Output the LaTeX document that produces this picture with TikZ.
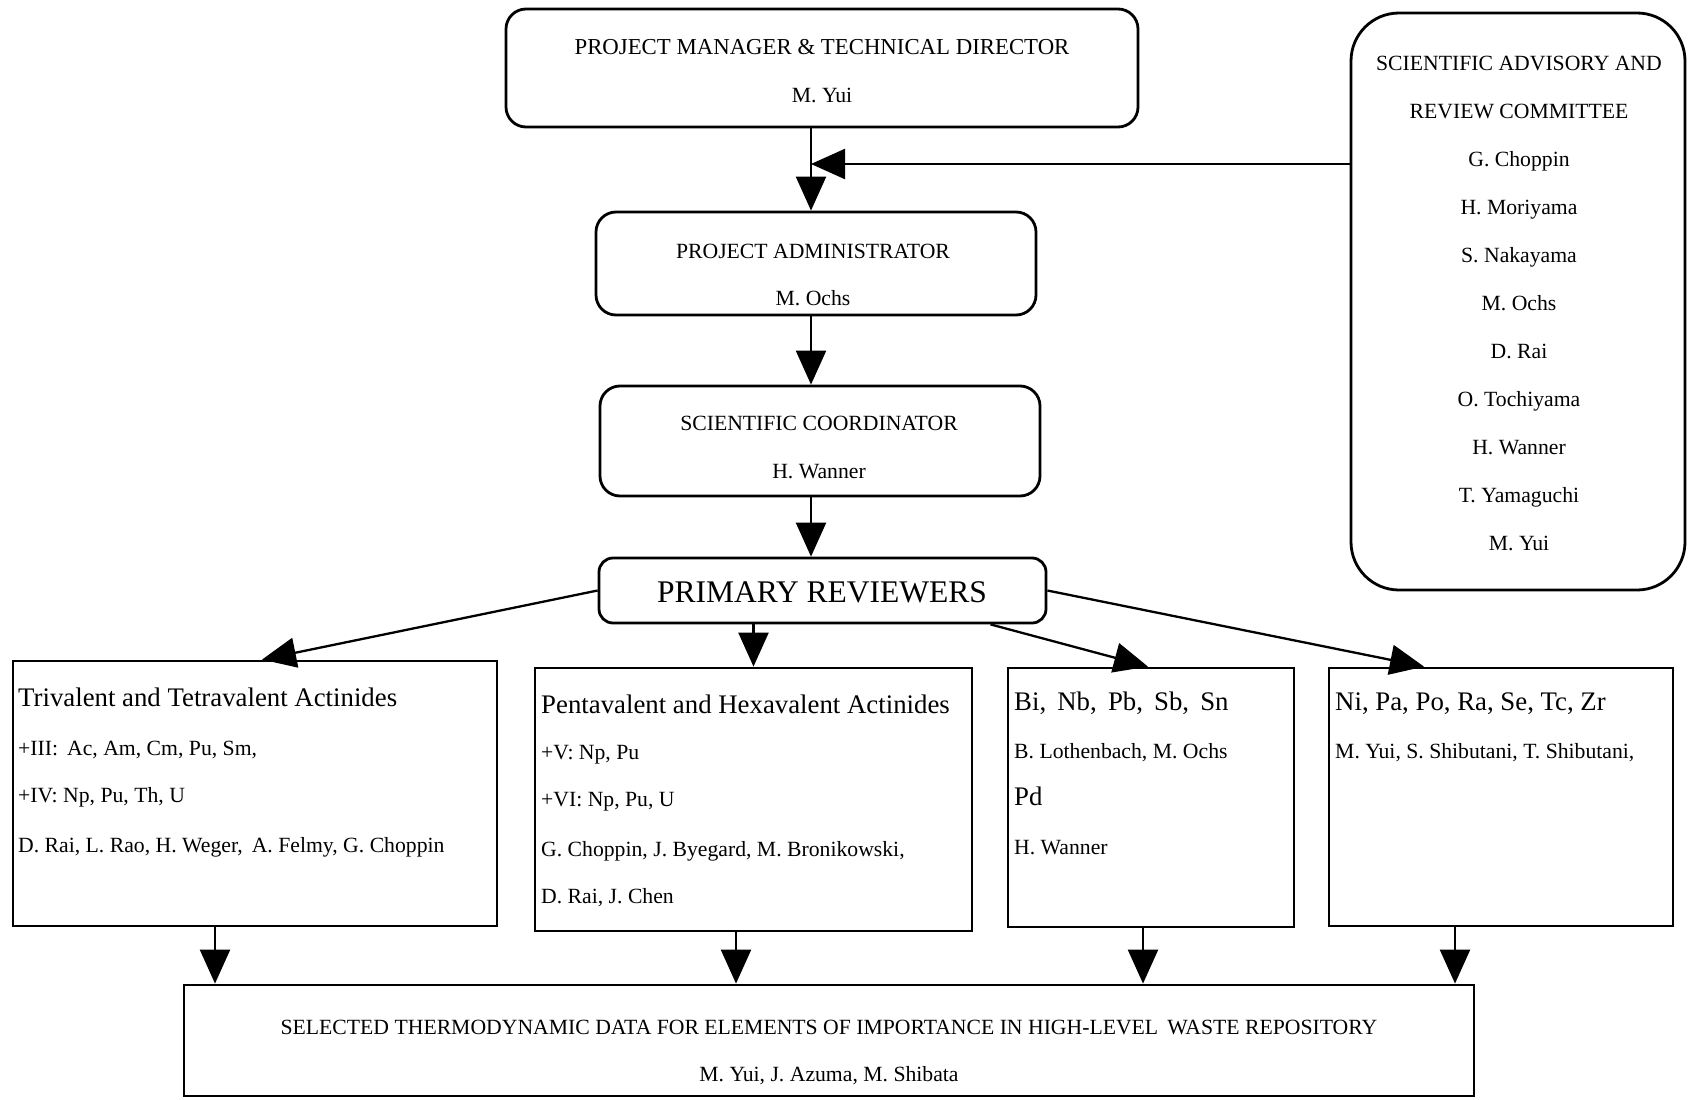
\documentclass[tikz,border=0pt]{standalone}
\usepackage{fontspec}
\setmainfont{Liberation Serif}
\usetikzlibrary{arrows.meta,calc}
\begin{document}
\begin{tikzpicture}[x=1pt,y=-1pt,
  box/.style={draw,line width=2.8pt,inner sep=0pt},
  rbox/.style={box,rounded corners=20pt},
  arr/.style={line width=2.3pt,-{Triangle[length=34pt,width=30pt]}},
  t/.style={inner sep=0pt,text height=15pt,text depth=1pt,font=\fontsize{21.7}{26}\selectfont},
  hd/.style={inner sep=0pt,text height=19pt,text depth=1pt,font=\fontsize{26.8}{32}\selectfont},
  big/.style={inner sep=0pt,text height=22pt,text depth=1pt,font=\fontsize{31.5}{36}\selectfont},
]
\useasboundingbox (0,0) rectangle (1689,1100);
% boxes
\node[rbox,minimum width=632pt,minimum height=118pt] (top) at (822,68) {};
\node[rbox,minimum width=440pt,minimum height=103pt] (adm) at (816,263.5) {};
\node[rbox,minimum width=440pt,minimum height=110pt] (crd) at (820,441) {};
\node[rbox,minimum width=447pt,minimum height=65pt,rounded corners=14pt] (prim) at (822.5,590.5) {};
\node[box,rounded corners=48pt,minimum width=334pt,minimum height=577pt] (comm) at (1518,301.5) {};
\node[box,minimum width=484pt,minimum height=265pt] (b1) at (255,793.5) {};
\node[box,minimum width=437pt,minimum height=263pt] (b2) at (753.5,799.5) {};
\node[box,minimum width=286pt,minimum height=259pt] (b3) at (1151,797.5) {};
\node[box,minimum width=344pt,minimum height=258pt] (b4) at (1501,797) {};
\node[box,minimum width=1290pt,minimum height=111pt] (bot) at (829,1040.5) {};
% texts
\node[t,font=\fontsize{22.8}{27}\selectfont] (top1) at (822,47) {PROJECT MANAGER \& TECHNICAL DIRECTOR};
\node[t] (top2) at (822,95) {M. Yui};
\node[t] (adm1) at (813,251) {PROJECT ADMINISTRATOR};
\node[t] (adm2) at (813,298) {M. Ochs};
\node[t] (crd1) at (819,423) {SCIENTIFIC COORDINATOR};
\node[t] (crd2) at (819,471) {H. Wanner};
\node[big] (prim1) at (822,592) {PRIMARY REVIEWERS};
\node[t] (c1) at (1519,63.6) {SCIENTIFIC ADVISORY AND};
\node[t] (c2) at (1519,111.6) {REVIEW COMMITTEE};
\node[t] (c3) at (1519,159.6) {G. Choppin};
\node[t] (c4) at (1519,207.6) {H. Moriyama};
\node[t] (c5) at (1519,255.6) {S. Nakayama};
\node[t] (c6) at (1519,303.6) {M. Ochs};
\node[t] (c7) at (1519,351.6) {D. Rai};
\node[t] (c8) at (1519,399.6) {O. Tochiyama};
\node[t] (c9) at (1519,447.6) {H. Wanner};
\node[t] (c10) at (1519,495.6) {T. Yamaguchi};
\node[t] (c11) at (1519,543.6) {M. Yui};
\node[hd,anchor=west] (b1a) at (18,697) {Trivalent and Tetravalent Actinides};
\node[t,anchor=west] (b1b) at (18,748) {+III:\, Ac, Am, Cm, Pu, Sm,};
\node[t,anchor=west] (b1c) at (18,795) {+IV: Np, Pu, Th, U};
\node[t,anchor=west] (b1d) at (18,845) {D. Rai, L. Rao, H. Weger,\, A. Felmy, G. Choppin};
\node[hd,anchor=west] (b2a) at (541,704) {Pentavalent and Hexavalent Actinides};
\node[t,anchor=west] (b2b) at (541,752) {+V: Np, Pu};
\node[t,anchor=west] (b2c) at (541,799) {+VI: Np, Pu, U};
\node[t,anchor=west] (b2d) at (541,849) {G. Choppin, J. Byegard, M. Bronikowski,};
\node[t,anchor=west] (b2e) at (541,896) {D. Rai, J. Chen};
\node[hd,anchor=west] (b3a) at (1014,701) {Bi,\, Nb,\, Pb,\, Sb,\, Sn};
\node[t,anchor=west] (b3b) at (1014,751) {B. Lothenbach, M. Ochs};
\node[hd,anchor=west] (b3c) at (1014,796) {Pd};
\node[t,anchor=west] (b3d) at (1014,847) {H. Wanner};
\node[hd,anchor=west] (b4a) at (1335,701) {Ni, Pa, Po, Ra, Se, Tc, Zr};
\node[t,anchor=west] (b4b) at (1335,751) {M. Yui, S. Shibutani, T. Shibutani,};
\node[t] (bot1) at (829,1027) {SELECTED THERMODYNAMIC DATA FOR ELEMENTS OF IMPORTANCE IN HIGH-LEVEL\, WASTE REPOSITORY};
\node[t] (bot2) at (829,1074) {M. Yui, J. Azuma, M. Shibata};
% connectors
\coordinate (j) at (811,164);
\draw[arr] (top.south -| j) -- (adm.north -| j);
\draw[arr] (comm.west |- j) -- (j);
\draw[arr] (adm.south -| j) -- (crd.north -| j);
\draw[arr] (crd.south -| j) -- (prim.north -| j);
\draw[arr] (prim.west) -- ($(b1.north)+(7,0)$);
\draw[arr] (prim.south -| b2.north) -- (b2.north);
\draw[arr] ($(prim.south)+(168,0)$) -- ($(b3.north)+(-3,0)$);
\draw[arr] (prim.east) -- ($(b4.north)+(-77,0)$);
\coordinate (d1) at ($(b1.south)+(-40,0)$);
\coordinate (d2) at ($(b2.south)+(-17.5,0)$);
\coordinate (d3) at ($(b3.south)+(-8,0)$);
\coordinate (d4) at ($(b4.south)+(-46,0)$);
\draw[arr] (d1) -- (d1 |- bot.north);
\draw[arr] (d2) -- (d2 |- bot.north);
\draw[arr] (d3) -- (d3 |- bot.north);
\draw[arr] (d4) -- (d4 |- bot.north);
\end{tikzpicture}
\end{document}
